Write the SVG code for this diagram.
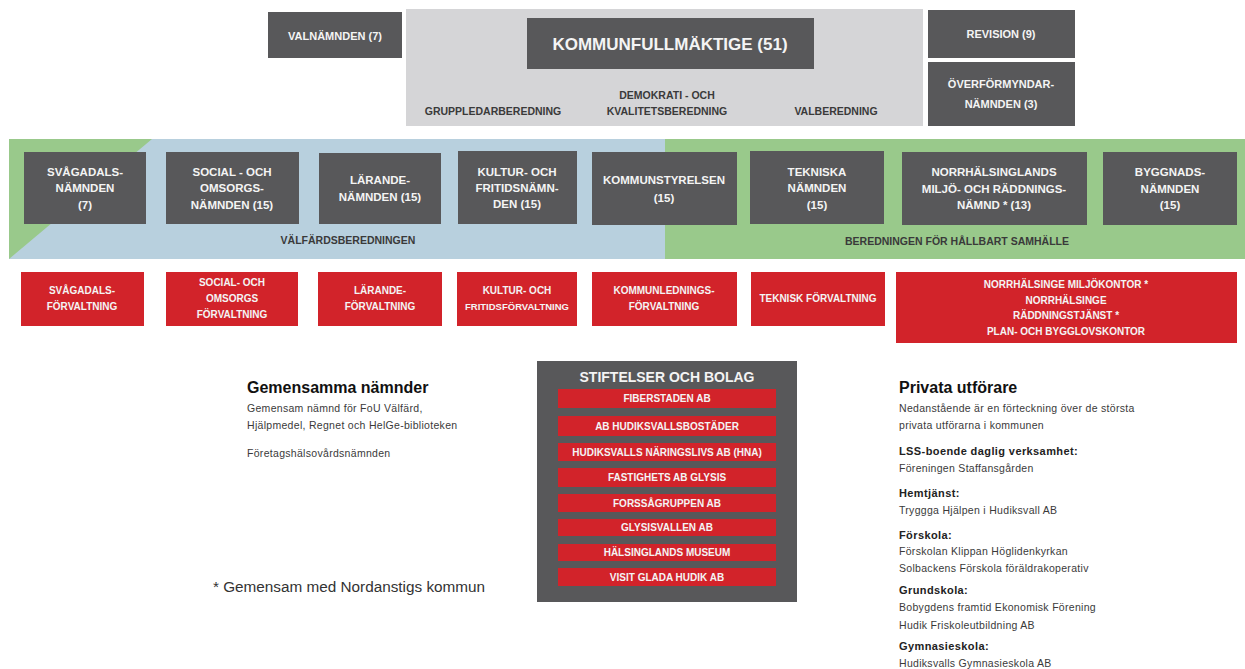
<svg xmlns="http://www.w3.org/2000/svg" width="1245" height="669" viewBox="0 0 1245 669">
<style>
.dk{fill:#58585a}
.rd{fill:#d2232a}
.wt{fill:#f4f4f4;font-family:"Liberation Sans",Arial,sans-serif;font-weight:bold;text-anchor:middle}
.h1{font-size:17px}
.h2{font-size:11px}
.h3{font-size:11.5px}
.h4{font-size:10px}
.lb{fill:#3a3a3a;font-family:"Liberation Sans",Arial,sans-serif;font-weight:bold;text-anchor:middle;font-size:10.5px}
.bl{fill:#3a3a3a;font-family:"Liberation Sans",Arial,sans-serif;font-size:10.5px;letter-spacing:0.3px}
.hd{fill:#111;font-family:"Liberation Sans",Arial,sans-serif;font-weight:bold}
.sb{fill:#222;font-family:"Liberation Sans",Arial,sans-serif;font-weight:bold;font-size:11px;letter-spacing:0.4px}
</style>
<rect width="1245" height="669" fill="#ffffff"/>

<g id="backgrounds">
<rect x="406" y="9" width="517" height="117" fill="#d5d5d7"/>
<rect x="9" y="139" width="656" height="120" fill="#b8d0de"/>
<rect x="665" y="139" width="580" height="120" fill="#99c98b"/>
<polygon points="9,139 152,139 9,259" fill="#99c98b"/>
</g>

<g id="labels">
<text class="lb" x="493" y="115">GRUPPLEDARBEREDNING</text>
<text class="lb" x="667" y="99">DEMOKRATI - OCH</text>
<text class="lb" x="667" y="115">KVALITETSBEREDNING</text>
<text class="lb" x="836" y="115">VALBEREDNING</text>
<text class="lb" x="348" y="244" style="font-size:10.5px">VÄLFÄRDSBEREDNINGEN</text>
<text class="lb" x="957" y="245" style="font-size:10.5px">BEREDNINGEN FÖR HÅLLBART SAMHÄLLE</text>
</g>

<g id="valnamnden"><rect class="dk" x="268" y="12" width="134" height="46"/><text class="wt h2" x="335" y="40">VALNÄMNDEN (7)</text></g>
<g id="kommunfullmaktige"><rect class="dk" x="527" y="18" width="287" height="51"/><text class="wt h1" x="670" y="50">KOMMUNFULLMÄKTIGE (51)</text></g>
<g id="revision"><rect class="dk" x="928" y="10" width="147" height="48"/><text class="wt h2" x="1001" y="38">REVISION (9)</text></g>
<g id="overformyndarnamnden"><rect class="dk" x="928" y="62" width="147" height="64"/><text class="wt h2" x="1001" y="88">ÖVERFÖRMYNDAR-</text><text class="wt h2" x="1001" y="108">NÄMNDEN (3)</text></g>

<g id="svagadalsnamnden"><rect class="dk" x="24" y="152" width="122" height="72"/><text class="wt h3" x="85" y="176">SVÅGADALS-</text><text class="wt h3" x="85" y="192">NÄMNDEN</text><text class="wt h3" x="85" y="209">(7)</text></g>
<g id="socialnamnden"><rect class="dk" x="166" y="152" width="133" height="72"/><text class="wt h3" x="232" y="176">SOCIAL - OCH</text><text class="wt h3" x="232" y="192">OMSORGS-</text><text class="wt h3" x="232" y="209">NÄMNDEN (15)</text></g>
<g id="larandenamnden"><rect class="dk" x="319" y="153" width="122" height="71"/><text class="wt h3" x="380" y="184">LÄRANDE-</text><text class="wt h3" x="380" y="201">NÄMNDEN (15)</text></g>
<g id="kulturnamnden"><rect class="dk" x="458" y="151" width="119" height="73"/><text class="wt h3" x="517" y="176">KULTUR- OCH</text><text class="wt h3" x="517" y="192">FRITIDSNÄMN-</text><text class="wt h3" x="517" y="208">DEN (15)</text></g>
<g id="kommunstyrelsen"><rect class="dk" x="592" y="152" width="145" height="73"/><text class="wt h3" x="664" y="184">KOMMUNSTYRELSEN</text><text class="wt h3" x="664" y="202">(15)</text></g>
<g id="tekniskanamnden"><rect class="dk" x="750" y="151" width="134" height="73"/><text class="wt h3" x="817" y="176">TEKNISKA</text><text class="wt h3" x="817" y="192">NÄMNDEN</text><text class="wt h3" x="817" y="209">(15)</text></g>
<g id="miljonamnd"><rect class="dk" x="902" y="152" width="185" height="73"/><text class="wt h3" x="994" y="176">NORRHÄLSINGLANDS</text><text class="wt h3" x="994" y="193">MILJÖ- OCH RÄDDNINGS-</text><text class="wt h3" x="994" y="209">NÄMND * (13)</text></g>
<g id="byggnadsnamnden"><rect class="dk" x="1103" y="152" width="134" height="73"/><text class="wt h3" x="1170" y="176">BYGGNADS-</text><text class="wt h3" x="1170" y="193">NÄMNDEN</text><text class="wt h3" x="1170" y="209">(15)</text></g>

<g id="svagadalsforvaltning"><rect class="rd" x="21" y="272" width="123" height="54"/><text class="wt h4" x="82" y="294">SVÅGADALS-</text><text class="wt h4" x="82" y="310">FÖRVALTNING</text></g>
<g id="socialforvaltning"><rect class="rd" x="166" y="272" width="132" height="54"/><text class="wt h4" x="232" y="286">SOCIAL- OCH</text><text class="wt h4" x="232" y="302">OMSORGS</text><text class="wt h4" x="232" y="318">FÖRVALTNING</text></g>
<g id="larandeforvaltning"><rect class="rd" x="318" y="272" width="124" height="54"/><text class="wt h4" x="380" y="294">LÄRANDE-</text><text class="wt h4" x="380" y="310">FÖRVALTNING</text></g>
<g id="kulturforvaltning"><rect class="rd" x="457" y="272" width="120" height="54"/><text class="wt h4" x="517" y="294">KULTUR- OCH</text><text class="wt h4" x="517" y="310" style="font-size:9.5px">FRITIDSFÖRVALTNING</text></g>
<g id="kommunledningsforvaltning"><rect class="rd" x="592" y="272" width="145" height="54"/><text class="wt h4" x="664" y="294">KOMMUNLEDNINGS-</text><text class="wt h4" x="664" y="310">FÖRVALTNING</text></g>
<g id="tekniskforvaltning"><rect class="rd" x="751" y="272" width="134" height="54"/><text class="wt h4" x="818" y="302">TEKNISK FÖRVALTNING</text></g>
<g id="miljokontor"><rect class="rd" x="896" y="272" width="341" height="71"/><text class="wt h4" x="1066" y="288">NORRHÄLSINGE MILJÖKONTOR *</text><text class="wt h4" x="1066" y="304">NORRHÄLSINGE</text><text class="wt h4" x="1066" y="319">RÄDDNINGSTJÄNST *</text><text class="wt h4" x="1066" y="335">PLAN- OCH BYGGLOVSKONTOR</text></g>

<g id="gemensamma">
<text class="hd" x="247" y="393" style="font-size:16px">Gemensamma nämnder</text>
<text class="bl" x="247" y="412">Gemensam nämnd för FoU Välfärd,</text>
<text class="bl" x="247" y="429">Hjälpmedel, Regnet och HelGe-biblioteken</text>
<text class="bl" x="247" y="457">Företagshälsovårdsnämnden</text>
</g>
<g id="footnote"><text x="213" y="592" style="fill:#333;font-family:'Liberation Sans',Arial,sans-serif;font-size:15.3px">* Gemensam med Nordanstigs kommun</text></g>

<g id="stiftelser">
<rect class="dk" x="537" y="361" width="260" height="241"/>
<text class="wt" x="667" y="382" style="font-size:14px">STIFTELSER OCH BOLAG</text>
<rect class="rd" x="558" y="389" width="218" height="19"/><text class="wt h4" x="667" y="402">FIBERSTADEN AB</text>
<rect class="rd" x="558" y="416" width="218" height="20"/><text class="wt h4" x="667" y="429.5">AB HUDIKSVALLSBOSTÄDER</text>
<rect class="rd" x="558" y="443" width="218" height="18"/><text class="wt h4" x="667" y="455.5">HUDIKSVALLS NÄRINGSLIVS AB (HNA)</text>
<rect class="rd" x="558" y="468" width="218" height="19"/><text class="wt h4" x="667" y="481">FASTIGHETS AB GLYSIS</text>
<rect class="rd" x="558" y="494" width="218" height="18"/><text class="wt h4" x="667" y="506.5">FORSSÅGRUPPEN AB</text>
<rect class="rd" x="558" y="519" width="218" height="17"/><text class="wt h4" x="667" y="531">GLYSISVALLEN AB</text>
<rect class="rd" x="558" y="544" width="218" height="17"/><text class="wt h4" x="667" y="556">HÄLSINGLANDS MUSEUM</text>
<rect class="rd" x="558" y="568" width="218" height="18"/><text class="wt h4" x="667" y="580.5">VISIT GLADA HUDIK AB</text>
</g>

<g id="privata">
<text class="hd" x="899" y="393" style="font-size:16px">Privata utförare</text>
<text class="bl" x="899" y="412">Nedanstående är en förteckning över de största</text>
<text class="bl" x="899" y="429">privata utförarna i kommunen</text>
<text class="sb" x="899" y="455">LSS-boende daglig verksamhet:</text>
<text class="bl" x="899" y="472">Föreningen Staffansgården</text>
<text class="sb" x="899" y="497">Hemtjänst:</text>
<text class="bl" x="899" y="514">Tryggga Hjälpen i Hudiksvall AB</text>
<text class="sb" x="899" y="539">Förskola:</text>
<text class="bl" x="899" y="555">Förskolan Klippan Höglidenkyrkan</text>
<text class="bl" x="899" y="572">Solbackens Förskola föräldrakoperativ</text>
<text class="sb" x="899" y="594">Grundskola:</text>
<text class="bl" x="899" y="611">Bobygdens framtid Ekonomisk Förening</text>
<text class="bl" x="899" y="629">Hudik Friskoleutbildning AB</text>
<text class="sb" x="899" y="650">Gymnasieskola:</text>
<text class="bl" x="899" y="667">Hudiksvalls Gymnasieskola AB</text>
</g>

<g id="connectors"/>
</svg>
